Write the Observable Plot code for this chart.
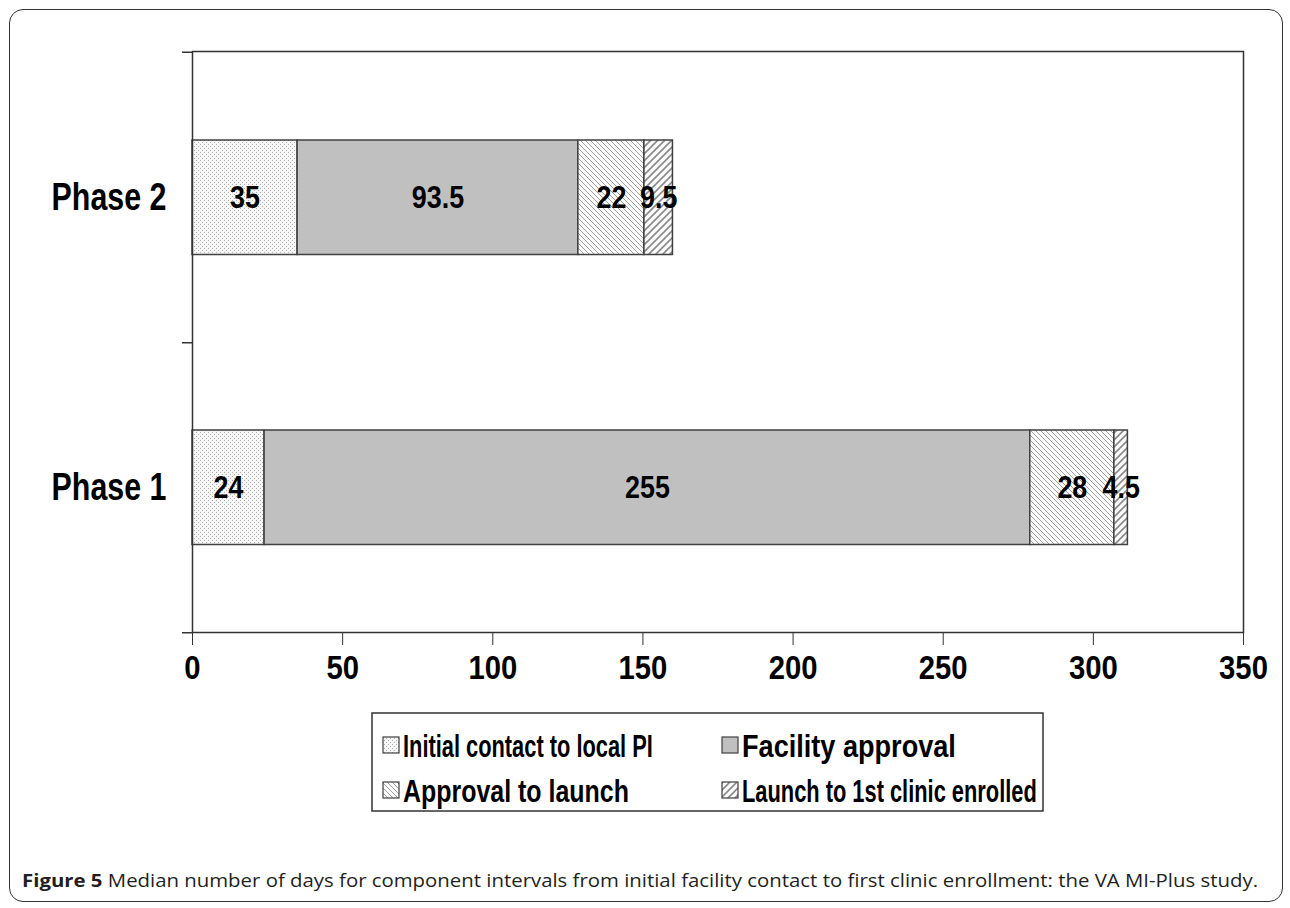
<!DOCTYPE html>
<html>
<head>
<meta charset="utf-8">
<script src="https://cdn.jsdelivr.net/npm/d3@7"></script>
<script src="https://cdn.jsdelivr.net/npm/@observablehq/plot@0.6"></script>
<style>
  html, body { margin: 0; padding: 0; background: #fff; }
  #wrap { position: relative; width: 1290px; height: 908px; overflow: hidden; background: #fff; }
  #border { position: absolute; left: 9px; top: 9px; width: 1274px; height: 893px; border: 1.5px solid #333; border-radius: 14px; box-sizing: border-box; }
  #chart { position: absolute; left: 0; top: 0; }
  #overlay { position: absolute; left: 0; top: 0; }
  #chart g[aria-label="x-axis tick label"] text { font-size: 34px; font-weight: bold; font-family: "Liberation Sans", Arial, sans-serif; fill: #000; }
  #chart g[aria-label="y-axis tick label"] text { font-size: 38px; font-weight: bold; font-family: "Liberation Sans", Arial, sans-serif; fill: #000; }
</style>
</head>
<body>
<div id="wrap">
  <div id="border"></div>
  <div id="chart"></div>
  <div id="overlay"></div>
</div>
<script>
// ---- data ----
const phases = ["Phase 2", "Phase 1"];
const series = ["Initial contact to local PI", "Facility approval", "Approval to launch", "Launch to 1st clinic enrolled"];
const phase2Values = [35, 93.5, 22, 9.5];
const phase1Values = [24, 255, 28, 4.5];
const xTicks = [0, 50, 100, 150, 200, 250, 300, 350];
const captionBold = "Figure 5";
const captionText = "Median number of days for component intervals from initial facility contact to first clinic enrollment: the VA MI-Plus study.";

const data = series.flatMap((s, i) => [
  {phase: "Phase 2", series: s, value: phase2Values[i]},
  {phase: "Phase 1", series: s, value: phase1Values[i]}
]);

// ---- layout ----
const W = 1290, H = 720;
const mL = 192, mR = 47, mT = 51, axisY = 632;
const mB = H - axisY;
const band = (axisY - mT) / phases.length;
const pxPerUnit = (W - mL - mR) / 350;

const patternUrls = ["url(#pDots)", "#c0c0c0", "url(#pBack)", "url(#pFwd)"];
const boldFont = '"Liberation Sans", Arial, sans-serif';

const chart = Plot.plot({
  width: W,
  height: H,
  marginLeft: mL,
  marginRight: mR,
  marginTop: mT,
  marginBottom: mB,
  style: {background: "transparent", color: "#333"},
  x: {domain: [0, 350], ticks: xTicks, tickSize: 13, tickPadding: 9, label: null},
  y: {domain: phases, padding: 0, label: null, tickSize: 0, tickPadding: 26},
  color: {type: "ordinal", domain: series, range: patternUrls},
  marks: [
    Plot.barX(data, Plot.stackX({
      x: "value", y: "phase", fill: "series", order: series,
      insetTop: 88, insetBottom: 87.5,
      stroke: "#404040", strokeWidth: 1.5
    })),
    Plot.text(data, Plot.stackX({
      x: "value", y: "phase", z: "series", order: series,
      text: d => String(d.value),
      fill: "#000", fontSize: 32, fontWeight: "bold", fontFamily: boldFont,
      className: "barlabel"
    })),
    Plot.frame({stroke: "#333", strokeWidth: 1.5}),
    Plot.ruleY([phases[0]], {y: d => d, dy: -band / 2, x1: -10 / pxPerUnit, x2: 0, stroke: "#333", strokeWidth: 1.5}),
    Plot.ruleY(phases, {y: d => d, dy: band / 2, x1: -10 / pxPerUnit, x2: 0, stroke: "#333", strokeWidth: 1.5})
  ]
});

// pattern definitions
const defs = d3.create("svg:defs");
const p0 = defs.append("pattern").attr("id", "pDots").attr("patternUnits", "userSpaceOnUse").attr("width", 4).attr("height", 4);
p0.append("rect").attr("width", 4).attr("height", 4).attr("fill", "#f6f6f6");
p0.append("rect").attr("x", 0).attr("y", 0).attr("width", 1).attr("height", 1).attr("fill", "#b0b0b0");
p0.append("rect").attr("x", 2).attr("y", 2).attr("width", 1).attr("height", 1).attr("fill", "#b0b0b0");
const p2 = defs.append("pattern").attr("id", "pBack").attr("patternUnits", "userSpaceOnUse").attr("width", 5).attr("height", 5);
p2.append("rect").attr("width", 5).attr("height", 5).attr("fill", "#fbfbfb");
p2.append("path").attr("d", "M0,0L5,5M-1,4L1,6M4,-1L6,1").attr("stroke", "#a0a0a0").attr("stroke-width", 1);
const p3 = defs.append("pattern").attr("id", "pFwd").attr("patternUnits", "userSpaceOnUse").attr("width", 7).attr("height", 7);
p3.append("rect").attr("width", 7).attr("height", 7).attr("fill", "#fbfbfb");
p3.append("path").attr("d", "M0,7L7,0M-2,2L2,-2M5,9L9,5").attr("stroke", "#8a8a8a").attr("stroke-width", 1.6);
chart.insertBefore(defs.node(), chart.firstChild);
document.getElementById("chart").appendChild(chart);

// condense text horizontally (Arial Narrow look)
function condense(nodes, factor) {
  nodes.forEach(t => {
    const len = t.getComputedTextLength();
    t.setAttribute("textLength", len * factor);
    t.setAttribute("lengthAdjust", "spacingAndGlyphs");
  });
}
condense(chart.querySelectorAll('g[aria-label="x-axis tick label"] text'), 0.86);
condense(chart.querySelectorAll('g[aria-label="y-axis tick label"] text'), 0.8);
condense(chart.querySelectorAll('.barlabel text'), 0.84);

// ---- legend + caption overlay ----
const ov = d3.select("#overlay").append("svg").attr("width", W).attr("height", 908);
ov.append("rect").attr("x", 372).attr("y", 713).attr("width", 671).attr("height", 98)
  .attr("fill", "#fff").attr("stroke", "#333").attr("stroke-width", 1.5);
const legendPos = [
  {x: 383, y: 745, len: 250},
  {x: 722, y: 745, len: 214},
  {x: 383, y: 790, len: 226},
  {x: 722, y: 790, len: 295}
];
series.forEach((s, i) => {
  const p = legendPos[i];
  ov.append("rect").attr("x", p.x).attr("y", p.y - 8).attr("width", 16).attr("height", 16)
    .attr("fill", patternUrls[i]).attr("stroke", "#404040").attr("stroke-width", 1.2);
  const t = ov.append("text").attr("x", 0).attr("y", 0).attr("dy", "0.36em")
    .attr("font-family", boldFont).attr("font-weight", "bold")
    .attr("font-size", 32).attr("fill", "#000").text(s);
  const natural = t.node().getComputedTextLength();
  t.attr("transform", `translate(${p.x + 20},${p.y}) scale(${p.len / natural},1)`);
});
const cap = ov.append("text").attr("x", 22).attr("y", 887)
  .attr("font-family", '"Open Sans", sans-serif').attr("font-size", 18.5).attr("fill", "#231f20")
  .attr("textLength", 1236).attr("lengthAdjust", "spacingAndGlyphs");
cap.append("tspan").attr("font-weight", "bold").text(captionBold);
cap.append("tspan").text(" " + captionText);
</script>
</body>
</html>
